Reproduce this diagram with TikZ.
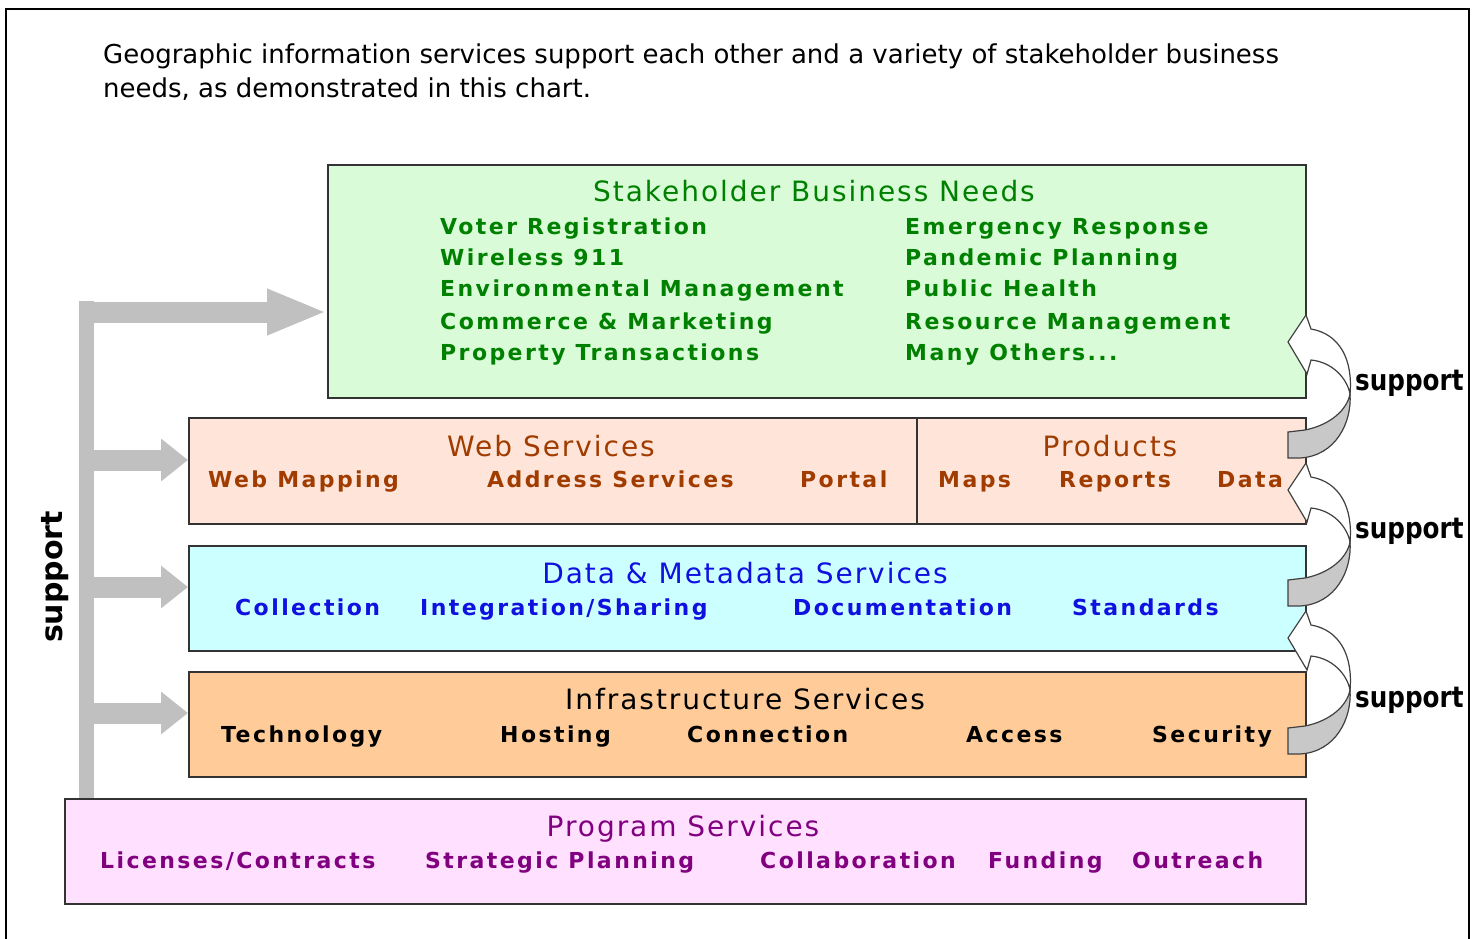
\documentclass[tikz,border=0pt]{standalone}
\usepackage{fontspec}
\setmainfont{DejaVu Sans}
\newfontfamily\itemfont[LetterSpace=11]{DejaVu Sans Bold}
\newfontfamily\titlefont[LetterSpace=7]{DejaVu Sans}
\newfontfamily\suppfont{DejaVu Sans Bold}
\usetikzlibrary{arrows.meta}
\definecolor{gfill}{HTML}{D9FBD7}
\definecolor{gtext}{HTML}{008000}
\definecolor{wfill}{HTML}{FFE5D9}
\definecolor{wtext}{HTML}{A03C00}
\definecolor{dfill}{HTML}{CCFFFF}
\definecolor{dtext}{HTML}{1010E0}
\definecolor{ifill}{HTML}{FFCC99}
\definecolor{pfill}{HTML}{FFE0FF}
\definecolor{ptext}{HTML}{800080}
\definecolor{garr}{HTML}{C0C0C0}
\definecolor{rarr}{HTML}{C8C8C8}
\tikzset{
  box/.style={draw=black!80, line width=1.5pt, anchor=north west, inner sep=0pt},
  item/.style={anchor=base west, inner sep=0pt, font=\itemfont\fontsize{22}{26}\selectfont},
  ttl/.style={anchor=base, inner sep=0pt, font=\titlefont\fontsize{28}{32}\selectfont},
  gbar/.style={draw=garr, line width=15pt},
  gharrow/.style={draw=garr, line width=21pt, -{Triangle[length=27pt,width=41pt]}},
  suppl/.style={anchor=west, inner sep=0pt, font=\suppfont\fontsize{29}{32}\selectfont, xscale=0.85},
  supparrow/.pic={
    \filldraw[fill=rarr, draw=black!75, line width=1.2pt]
      (1350,394) .. controls (1352,422) and (1336,456) .. (1300,458) -- (1288,458)
      -- (1288,432) -- (1305,430) .. controls (1330,425) and (1347,410) .. (1350,394) -- cycle;
    \filldraw[fill=white, draw=black!75, line width=1.2pt]
      (1350,394) .. controls (1353,360) and (1340,334) .. (1311,329) -- (1306,315)
      -- (1288,342) -- (1307,374) -- (1311,360) .. controls (1332,362) and (1347,378) .. (1350,394) -- cycle;
  }
}
\begin{document}
\begin{tikzpicture}[x=1pt,y=-1pt]
\useasboundingbox[fill=white] (0,0) rectangle (1477,938);
% outer frame
\draw[line width=2pt] (6,945) -- (6,9) -- (1469,9) -- (1469,945);
% intro text
\node[anchor=base west, inner sep=0pt, font=\fontsize{26}{30}\selectfont] (intro1) at (103,63)
  {Geographic information services support each other and a variety of stakeholder business};
\node[anchor=base west, inner sep=0pt, font=\fontsize{26}{30}\selectfont] (intro2) at (103,97)
  {needs, as demonstrated in this chart.};
% boxes
\node[box, fill=gfill, minimum width=978pt, minimum height=233pt] (green) at (327,164) {};
\node[box, fill=wfill, minimum width=1117pt, minimum height=106pt] (web) at (188,417) {};
\node[box, fill=dfill, minimum width=1117pt, minimum height=105pt] (data) at (188,545) {};
\node[box, fill=ifill, minimum width=1117pt, minimum height=105pt] (infra) at (188,671) {};
\node[box, fill=pfill, minimum width=1241pt, minimum height=105pt] (prog) at (64,798) {};
\coordinate (dv) at (917,0);
\draw[draw=black!80, line width=1.5pt] (web.north -| dv) -- (web.south -| dv);
% stakeholder texts
\node[ttl, text=gtext] (t1) at (814,201) {Stakeholder Business Needs};
\begin{scope}[every node/.style={item, text=gtext}]
\node (g1) at (440,234) {Voter Registration};
\node (g2) at (440,265) {Wireless 911};
\node (g3) at (440,296) {Environmental Management};
\node (g4) at (440,329) {Commerce \& Marketing};
\node (g5) at (440,360) {Property Transactions};
\node (g6) at (905,234) {Emergency Response};
\node (g7) at (905,265) {Pandemic Planning};
\node (g8) at (905,296) {Public Health};
\node (g9) at (905,329) {Resource Management};
\node (g10) at (905,360) {Many Others...};
\end{scope}
% web services
\node[ttl, text=wtext] (t2) at (551,456) {Web Services};
\node[ttl, text=wtext] (t3) at (1110,456) {Products};
\begin{scope}[every node/.style={item, text=wtext}]
\node (w1) at (208,487) {Web Mapping};
\node (w2) at (487,487) {Address Services};
\node (w3) at (800,487) {Portal};
\node (w4) at (938,487) {Maps};
\node (w5) at (1059,487) {Reports};
\node (w6) at (1217,487) {Data};
\end{scope}
% data services
\node[ttl, text=dtext] (t4) at (745,583) {Data \& Metadata Services};
\begin{scope}[every node/.style={item, text=dtext}]
\node (d1) at (235,615) {Collection};
\node (d2) at (420,615) {Integration/Sharing};
\node (d3) at (793,615) {Documentation};
\node (d4) at (1072,615) {Standards};
\end{scope}
% infrastructure
\node[ttl, text=black] (t5) at (745,709) {Infrastructure Services};
\begin{scope}[every node/.style={item, text=black}]
\node (i1) at (221,742) {Technology};
\node (i2) at (500,742) {Hosting};
\node (i3) at (687,742) {Connection};
\node (i4) at (966,742) {Access};
\node (i5) at (1152,742) {Security};
\end{scope}
% program
\node[ttl, text=ptext] (t6) at (683,836) {Program Services};
\begin{scope}[every node/.style={item, text=ptext}]
\node (p1) at (100,868) {Licenses/Contracts};
\node (p2) at (425,868) {Strategic Planning};
\node (p3) at (760,868) {Collaboration};
\node (p4) at (988,868) {Funding};
\node (p5) at (1132,868) {Outreach};
\end{scope}
% gray support arrows on the left
\coordinate (vtop) at (86.5,301);
\draw[gbar] (vtop) -- (vtop |- prog.north);
\coordinate (a1) at (79,312);
\coordinate (a2) at (79,460);
\coordinate (a3) at (79,587);
\coordinate (a4) at (79,713);
\draw[draw=garr, line width=21pt, -{Triangle[length=60pt,width=42pt]}] (a1) -- (green.west |- a1);
\draw[gharrow] (a2) -- (web.west |- a2);
\draw[gharrow] (a3) -- (data.west |- a3);
\draw[gharrow] (a4) -- (infra.west |- a4);
\node[anchor=center, inner sep=0pt, rotate=90, font=\suppfont\fontsize{30}{34}\selectfont] (sl) at (55,577) {support};
% curved support arrows on the right
\pic at (0,0) {supparrow};
\pic at (0,148) {supparrow};
\pic at (0,296) {supparrow};
\node[suppl] (s1) at (1355,383) {support};
\node[suppl] (s2) at (1355,531) {support};
\node[suppl] (s3) at (1355,700) {support};
\end{tikzpicture}
\end{document}
